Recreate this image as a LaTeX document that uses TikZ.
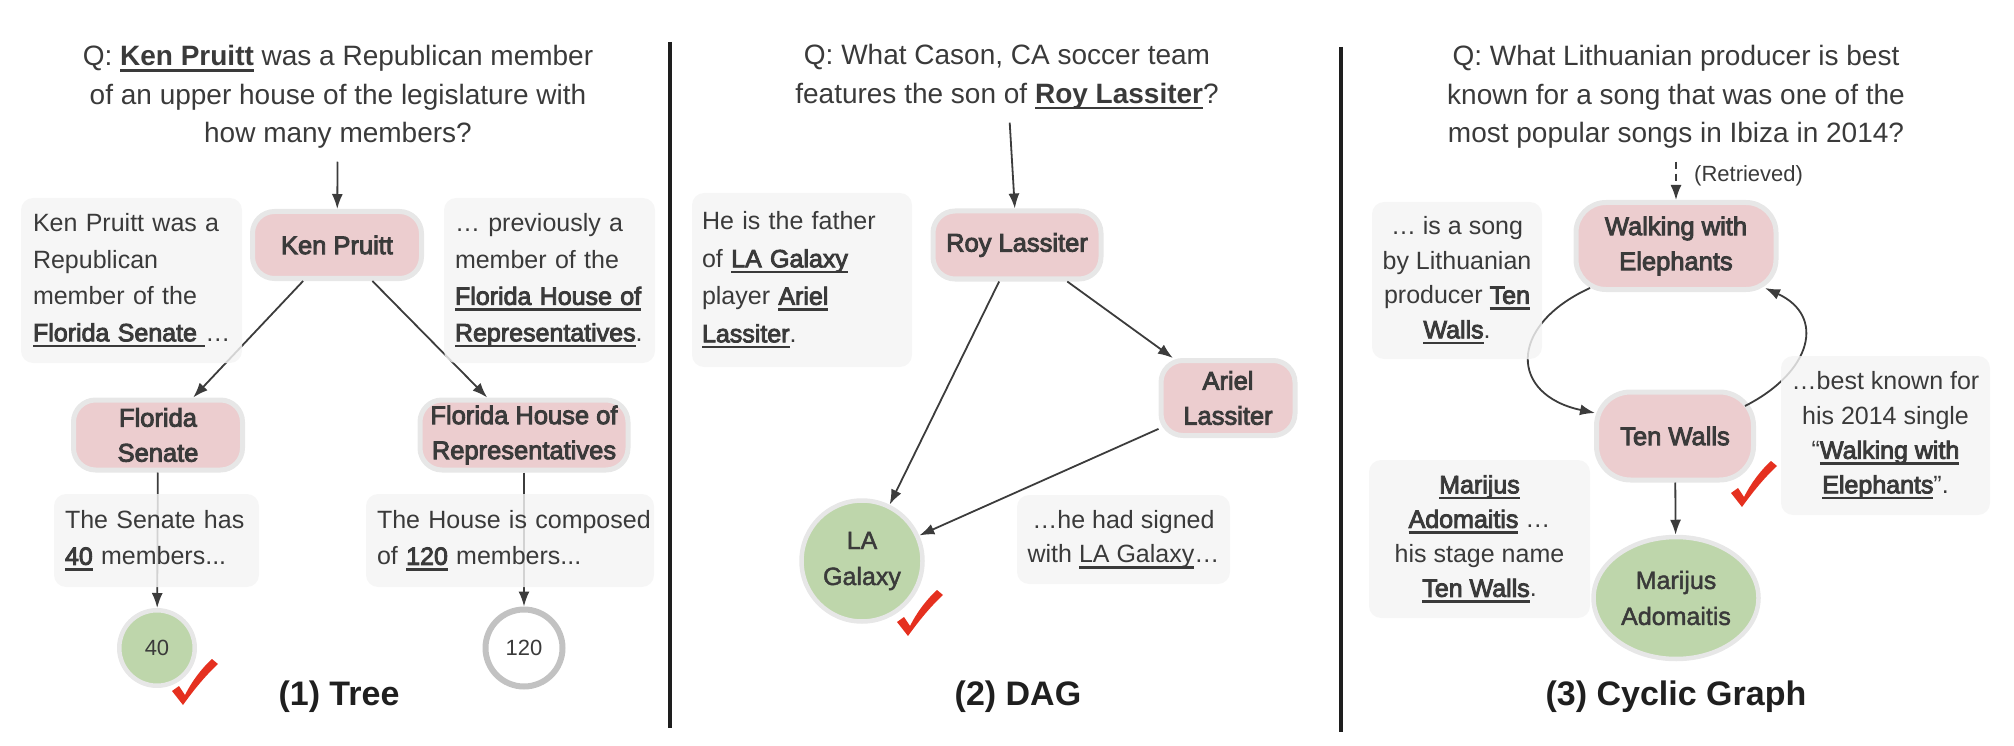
\documentclass[tikz,border=0pt]{standalone}
\usepackage{fontspec}
\setmainfont{Liberation Sans}
\newfontfamily\medfam{Liberation Sans}[FakeBold=3.5]
\newfontfamily\semfam{Liberation Sans}[FakeBold=1.8]
\usetikzlibrary{arrows.meta,shapes.geometric,calc}
\definecolor{txt}{HTML}{3A3A3A}
\definecolor{capc}{HTML}{1F1F1F}
\definecolor{pinkf}{HTML}{ECCDCF}
\definecolor{greenf}{HTML}{BED6AB}
\definecolor{nodeb}{HTML}{E7E7E7}
\definecolor{boxf}{HTML}{F4F4F4}
\definecolor{edgec}{HTML}{3C3C3C}
\definecolor{ckred}{HTML}{E5301F}
\definecolor{ringc}{HTML}{C2C2C2}
\definecolor{divc}{HTML}{1E1E1E}
\newsavebox\ulbx
\newcommand\ulw[1]{\sbox\ulbx{#1}\rlap{\rule[-6pt]{\wd\ulbx}{2.4pt}}\usebox\ulbx}
\newcommand\ulb[1]{\ulw{\medfam #1}}
\newcommand\ulq[1]{\ulw{\bfseries #1}}
\newcommand\fQ{\fontsize{28}{38.5}\selectfont}
\newcommand\fNode{\fontsize{25.5}{35}\selectfont\medfam}
\newcommand\fAns{\fontsize{25}{36}\selectfont\semfam}
\newcommand\fNum{\fontsize{22}{26}\selectfont}
\newcommand\fBox{\fontsize{25}{36.5}\selectfont}
\newcommand\fBoxB{\fontsize{25}{37.5}\selectfont}
\newcommand\fBoxC{\fontsize{25}{34.5}\selectfont}
\newcommand\fCap{\fontsize{34}{40}\selectfont\bfseries}
\newcommand\fRet{\fontsize{22}{26}\selectfont}
\begin{document}
\begin{tikzpicture}[x=1pt,y=-1pt,
  ent/.style={rectangle, rounded corners=22pt, fill=pinkf, draw=nodeb, line width=5pt, font=\fNode, text=txt, align=center, inner sep=0pt},
  ans/.style={circle, fill=greenf, draw=nodeb, line width=4.5pt, font=\fAns, text=txt, align=center, inner sep=0pt},
  tbox/.style={rectangle, rounded corners=12pt, fill=boxf, fill opacity=0.82, text opacity=1, text=txt, inner sep=0pt},
  qtext/.style={font=\fQ, text=txt, align=center, inner sep=0pt},
  arr/.style={draw=edgec, line width=1.8pt, -{Latex[length=15pt,width=11pt]}},
  captext/.style={font=\fCap, text=capc},
  chk/.pic={\fill[ckred] (0,32) -- (7,27) -- (13,36) .. controls (20,22) and (30,9) .. (40,0) -- (46,5) .. controls (33,17) and (21,32) .. (11,46) -- cycle;}
]
\useasboundingbox (0,0) rectangle (2014,746);
% dividers
\draw[divc, line width=3.5pt] (670,42) -- (670,728);
\draw[divc, line width=3.5pt] (1341,47) -- (1341,732);

% ---------------- Panel 1: Tree
\node[qtext] (q1) at (338,97) {Q: \ulq{Ken Pruitt} was a Republican member\\of an upper house of the legislature with\\how many members?};
\node[ent, minimum width=169pt, minimum height=67pt] (ken) at (337,245) {Ken Pruitt};
\node[ent, minimum width=169pt, minimum height=70pt] (sen) at (158,435) {Florida\\Senate};
\node[ent, minimum width=208pt, minimum height=70pt] (hou) at (524,435) {Florida House of\\Representatives};
\node[ans, font=\fNum, minimum size=75.5pt] (c40) at (157,648) {40};
\node[circle, draw=ringc, line width=6pt, fill=white, minimum size=77pt, font=\fNum, text=txt, inner sep=0pt] (c120) at (524,648) {120};

\draw[arr, shorten <=13pt] (q1) -- (ken);
\draw[arr] (ken) -- (sen);
\draw[arr] (ken) -- (hou);
\draw[arr] (sen) -- (c40);
\draw[arr] (hou) -- (c120);

\node[tbox, font=\fBox, minimum width=221pt, minimum height=165pt, text width=197pt, align=left] (b1l) at (131.5,280.5)
  {\mbox{Ken Pruitt was a}\\\mbox{Republican}\\\mbox{member of the}\\\mbox{\ulb{Florida Senate\ }…}};
\node[tbox, font=\fBox, minimum width=211pt, minimum height=165pt, text width=189pt, align=left] (b1r) at (549.5,280.5)
  {\mbox{… previously a}\\\mbox{member of the}\\\mbox{\ulb{Florida House of}}\\\mbox{\ulb{Representatives}.}};
\node[tbox, font=\fBox, minimum width=205pt, minimum height=93pt, text width=183pt, align=left] (b1s) at (156.5,540.5)
  {\mbox{The Senate has}\\\mbox{\ulb{40} members...}};
\node[tbox, font=\fBox, minimum width=288pt, minimum height=93pt, text width=266pt, align=left] (b1h) at (510,540.5)
  {\mbox{The House is composed}\\\mbox{of \ulb{120} members...}};
\pic at (172,659) {chk};
\node[captext] (cap1) at (339,697) {(1) Tree};

% ---------------- Panel 2: DAG
\node[qtext] (q2) at (1007,77) {Q: What Cason, CA soccer team\\features the son of \ulq{Roy Lassiter}?};
\node[ent, minimum width=168pt, minimum height=68pt] (roy) at (1017,245) {Roy Lassiter};
\node[ent, minimum width=134pt, minimum height=75pt] (ari) at (1228,398) {Ariel\\Lassiter};
\node[ans, minimum size=121pt] (lag) at (862,561) {LA\\Galaxy};

\draw[arr, shorten <=13pt] (q2) -- (roy);
\draw[arr] (roy) -- (lag);
\draw[arr] (roy) -- (ari);
\draw[arr] (ari) -- (lag);

\node[tbox, font=\fBoxB, minimum width=220pt, minimum height=174pt, text width=200pt, align=left] (b2l) at (802,280)
  {\mbox{He is the father}\\\mbox{of \ulb{LA Galaxy}}\\\mbox{player \ulb{Ariel}}\\\mbox{\ulb{Lassiter}.}};
\node[tbox, font=\fBoxC, minimum width=213pt, minimum height=89pt, align=center] (b2r) at (1123.5,539.5)
  {…he had signed\\with \ulw{LA Galaxy}…};
\pic at (897,590) {chk};
\node[captext] (cap2) at (1018,697) {(2) DAG};

% ---------------- Panel 3: Cyclic graph
\node[qtext] (q3) at (1676,97) {Q: What Lithuanian producer is best\\known for a song that was one of the\\most popular songs in Ibiza in 2014?};
\node[ent, rounded corners=30pt, minimum width=200pt, minimum height=87pt] (walk) at (1676,246) {Walking with\\Elephants};
\node[ent, rounded corners=34pt, minimum width=157pt, minimum height=88pt] (ten) at (1675,436) {Ten Walls};
\node[ans, ellipse, minimum width=165pt, minimum height=122pt] (mar) at (1676,598) {Marijus\\Adomaitis};

\draw[arr, dash pattern=on 7pt off 5pt, shorten <=13pt] (q3) -- (walk);
\node[font=\fRet, text=txt, anchor=west, inner sep=0pt] (ret) at (1694,176) {(Retrieved)};

\coordinate (wa) at ($(walk.center)+(-86,42)$);
\coordinate (ta) at ($(ten.center)+(-80,-23)$);
\coordinate (tb) at ($(ten.center)+(70,-30)$);
\coordinate (wb) at ($(walk.center)+(89,42)$);
\draw[arr] (wa) .. controls +(-83,38) and +(-85,-18) .. (ta);
\draw[arr] (tb) .. controls +(67,-34) and +(61,28) .. (wb);
\draw[arr] (ten) -- (mar);

\node[tbox, font=\fBoxC, minimum width=170pt, minimum height=157pt, align=center] (b3a) at (1457,280.5)
  {… is a song\\by Lithuanian\\producer \ulb{Ten}\\\ulb{Walls}.};
\node[tbox, font=\fBoxC, minimum width=209pt, minimum height=159pt, align=center] (b3b) at (1885.5,435.5)
  {…best known for\\his 2014 single\\“\ulb{Walking with}\\\ulb{Elephants}”.};
\node[tbox, font=\fBoxC, minimum width=221pt, minimum height=158pt, align=center] (b3c) at (1479.5,539)
  {\ulb{Marijus}\\\ulb{Adomaitis} …\\his stage name\\\ulb{Ten Walls}.};
\pic at (1731,461) {chk};
\node[captext] (cap3) at (1676,697) {(3) Cyclic Graph};
\end{tikzpicture}
\end{document}
